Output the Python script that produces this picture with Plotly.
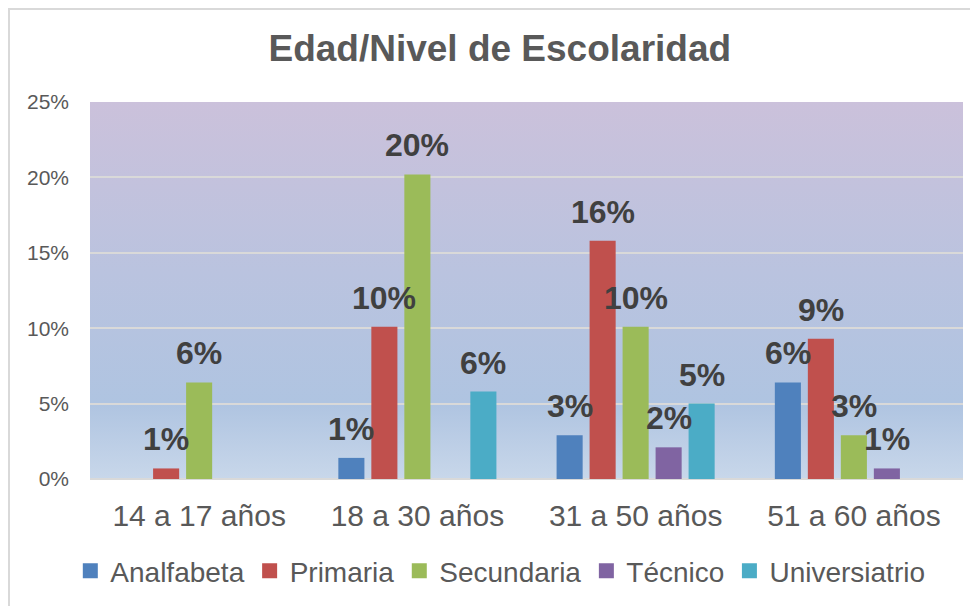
import base64
import plotly.graph_objects as go

categories = ["14 a 17 años", "18 a 30 años", "31 a 50 años", "51 a 60 años"]
series_names = ["Analfabeta", "Primaria", "Secundaria", "Técnico", "Universiatrio"]
analfabeta = [None, 0.014, 0.029, 0.064]
primaria = [0.007, 0.101, 0.158, 0.093]
secundaria = [0.064, 0.202, 0.101, 0.029]
tecnico = [None, None, 0.021, 0.007]
universitario = [None, 0.058, 0.050, None]
series_values = [analfabeta, primaria, secundaria, tecnico, universitario]
colors = ["#4F81BD", "#C0504D", "#9BBB59", "#8064A2", "#4BACC6"]
y_ticks = [0, 0.05, 0.10, 0.15, 0.20, 0.25]

FONT = "Liberation Sans, Arial, sans-serif"

# layout geometry (page has an 8px body margin)
W, H = 970, 598
ML, MR, MT, MB = 82, 15, 94, 127
BARGAP, GROUPGAP = 0.244, 0.21
plot_w = W - ML - MR
plot_h = H - MT - MB

fig = go.Figure()
for name, vals, col in zip(series_names, series_values, colors):
    fig.add_trace(go.Bar(
        x=categories, y=vals, name=name,
        marker=dict(color=col, line=dict(width=0)),
        showlegend=False, hoverinfo="skip",
    ))
# legend entries with square markers
for name, col in zip(series_names, colors):
    fig.add_trace(go.Scatter(
        x=[None], y=[None], mode="markers", name=name,
        marker=dict(symbol="square", size=15, color=col),
    ))

# data labels, anchored at each bar's value and shifted to its slot in the group
n = len(series_names)
slot = plot_w / len(categories) * (1 - BARGAP) / n
annotations = []
for i, vals in enumerate(series_values):
    for cat, v in zip(categories, vals):
        if v is None:
            continue
        annotations.append(dict(
            x=cat, y=v, xref="x", yref="y", text=f"<b>{v:.0%}</b>",
            showarrow=False, xanchor="center", yanchor="bottom",
            xshift=(i - (n - 1) / 2) * slot, yshift=9,
            font=dict(family=FONT, size=32, color="#404040"),
        ))

svg = ('<svg xmlns="http://www.w3.org/2000/svg" width="100" height="100" viewBox="0 0 100 100" '
       'preserveAspectRatio="none"><defs><linearGradient id="g" x1="0" y1="0" x2="0" y2="1">'
       '<stop offset="0" stop-color="#CBC1DB"/><stop offset="0.45" stop-color="#BAC3DF"/>'
       '<stop offset="0.8" stop-color="#AFC4E1"/><stop offset="1" stop-color="#C8D7EA"/>'
       '</linearGradient></defs><rect width="100" height="100" fill="url(#g)"/></svg>')
src = "data:image/svg+xml;base64," + base64.b64encode(svg.encode()).decode()

fig.update_layout(
    width=W, height=H,
    margin=dict(l=ML, r=MR, t=MT, b=MB, autoexpand=False),
    paper_bgcolor="white", plot_bgcolor="rgba(0,0,0,0)",
    barmode="group", bargap=BARGAP, bargroupgap=GROUPGAP,
    title=dict(text="<b>Edad/Nivel de Escolaridad</b>", x=0.507, xref="container",
               y=1 - 40 / H, yanchor="middle", yref="container",
               font=dict(family=FONT, size=37, color="#595959")),
    xaxis=dict(tickfont=dict(family=FONT, size=30, color="#595959"),
               showgrid=False, zeroline=False, showline=False, ticks="",
               ticklabelstandoff=16),
    yaxis=dict(range=[0, 0.25], tickvals=y_ticks, tickformat=".0%",
               tickfont=dict(family=FONT, size=21, color="#595959"),
               showgrid=True, gridcolor="#D9D9D9", gridwidth=2,
               zeroline=True, zerolinecolor="#D9D9D9", zerolinewidth=2,
               showline=False, ticks="", ticklabelstandoff=20),
    legend=dict(orientation="h", x=0.47, xanchor="center", y=-0.244, yanchor="middle",
                font=dict(family=FONT, size=28, color="#595959"),
                itemwidth=30, bgcolor="rgba(0,0,0,0)", traceorder="normal"),
    annotations=annotations,
    images=[dict(source=src, xref="paper", yref="paper", x=0, y=1, sizex=1, sizey=1,
                 xanchor="left", yanchor="top", sizing="stretch", layer="below")],
    shapes=[dict(type="rect", xref="paper", yref="paper",
                 x0=(1 - ML) / plot_w, x1=1.2, y0=-0.5, y1=1 + (MT - 1) / plot_h,
                 line=dict(color="#D9D9D9", width=2), fillcolor="rgba(0,0,0,0)", layer="below")],
)

fig.write_html("out.html")
